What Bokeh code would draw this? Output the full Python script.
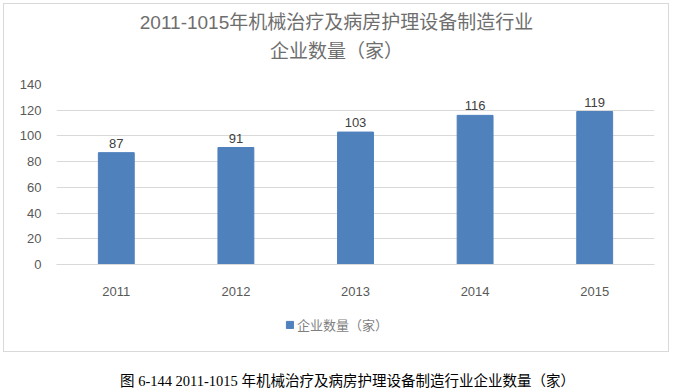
from bokeh.plotting import figure
from bokeh.layouts import column
from bokeh.models import (ColumnDataSource, Label, Legend, LegendItem,
                          FixedTicker, Range1d)
from bokeh.core.properties import value
from bokeh.embed import file_html
from bokeh.resources import INLINE

years = ["2011", "2012", "2013", "2014", "2015"]
counts = [87, 91, 103, 116, 119]
y_ticks = [0, 20, 40, 60, 80, 100, 120, 140]
title_line1 = "2011-1015年机械治疗及病房护理设备制造行业"
title_line2 = "企业数量（家）"
series_name = "企业数量（家）"
caption = "图 6-144 2011-1015 年机械治疗及病房护理设备制造行业企业数量（家）"

LAT = "Liberation Sans"
CJK = "Noto Sans CJK SC"
BAR = "#4F81BD"


def blank(width, height, left=52, right=14, x_range=None):
    f = figure(width=width, height=height,
               x_range=x_range if x_range is not None else Range1d(0, 1),
               y_range=Range1d(0, 1), output_backend="svg",
               toolbar_location=None, title=None, min_border=0,
               min_border_left=left, min_border_right=right)
    f.axis.visible = False
    f.grid.visible = False
    f.outline_line_color = None
    return f


src = ColumnDataSource(dict(x=years, top=counts, label=[str(c) for c in counts]))

# title block (frame aligned with the chart frame)
tf = blank(664, 70)
tf.add_layout(Label(x=280, y=52, x_units="screen", y_units="screen",
                    text=title_line1, text_align="center", text_baseline="middle",
                    text_font=f"'{LAT}', '{CJK}'", text_font_size="19px",
                    text_color="#6E6E6E"))
tf.add_layout(Label(x=280, y=25, x_units="screen", y_units="screen",
                    text=title_line2, text_align="center", text_baseline="middle",
                    text_font=CJK, text_font_size="19px", text_color="#6E6E6E"))

# chart
p = figure(x_range=years, y_range=Range1d(0, 140), width=664, height=226,
           output_backend="svg", toolbar_location=None, title=None,
           min_border_left=52, min_border_right=14,
           min_border_top=10, min_border_bottom=36)
p.outline_line_color = None

p.vbar(x="x", top="top", width=0.3, source=src, fill_color=BAR, line_color=BAR)
p.text(x="x", y="top", text="label", source=src, text_align="center",
       text_baseline="bottom", y_offset=-5, text_font=value(LAT),
       text_font_size="13px", text_color="#404040")

p.yaxis.ticker = FixedTicker(ticks=y_ticks)
p.yaxis.axis_line_color = None
p.yaxis.major_tick_line_color = None
p.yaxis.minor_tick_line_color = None
p.yaxis.major_label_standoff = 9
p.yaxis.major_label_text_font = LAT
p.yaxis.major_label_text_font_size = "13px"
p.yaxis.major_label_text_color = "#595959"

p.xaxis.axis_line_color = "#D9D9D9"
p.xaxis.major_tick_line_color = None
p.xaxis.minor_tick_line_color = None
p.xaxis.major_label_standoff = 16
p.xaxis.major_label_text_font = LAT
p.xaxis.major_label_text_font_size = "13px"
p.xaxis.major_label_text_color = "#595959"

p.xgrid.grid_line_color = None
p.ygrid.grid_line_color = "#D9D9D9"

# legend block: a hidden copy of the bar series supplies the legend key
lf = blank(664, 51, x_range=p.x_range)
key = lf.vbar(x="x", top="top", width=0.3, source=src,
              fill_color=BAR, line_color=BAR, visible=False)
legend = Legend(items=[LegendItem(label=series_name, renderers=[key])],
                location=(229, 17), orientation="horizontal",
                border_line_color=None, background_fill_alpha=0,
                glyph_width=9, glyph_height=9, label_height=14,
                label_text_font=CJK, label_text_font_size="13px",
                label_text_color="#7F7F7F", padding=0, margin=0,
                label_standoff=3, spacing=0, click_policy="none")
lf.add_layout(legend, "center")

boxed = column(tf, p, lf, spacing=0, margin=(3, 0, 0, 3),
               styles={"border": "1px solid #D9D9D9"})

# caption
cf = blank(674, 38, left=0, right=0)
cf.add_layout(Label(x=347, y=10, x_units="screen", y_units="screen",
                    text=caption, text_align="center", text_baseline="middle",
                    text_font=f"'Liberation Serif', '{CJK}'",
                    text_font_size="14.5px", text_color="#000000"))

page = column(boxed, cf, spacing=0)
open("out.html", "w").write(file_html(page, INLINE))
